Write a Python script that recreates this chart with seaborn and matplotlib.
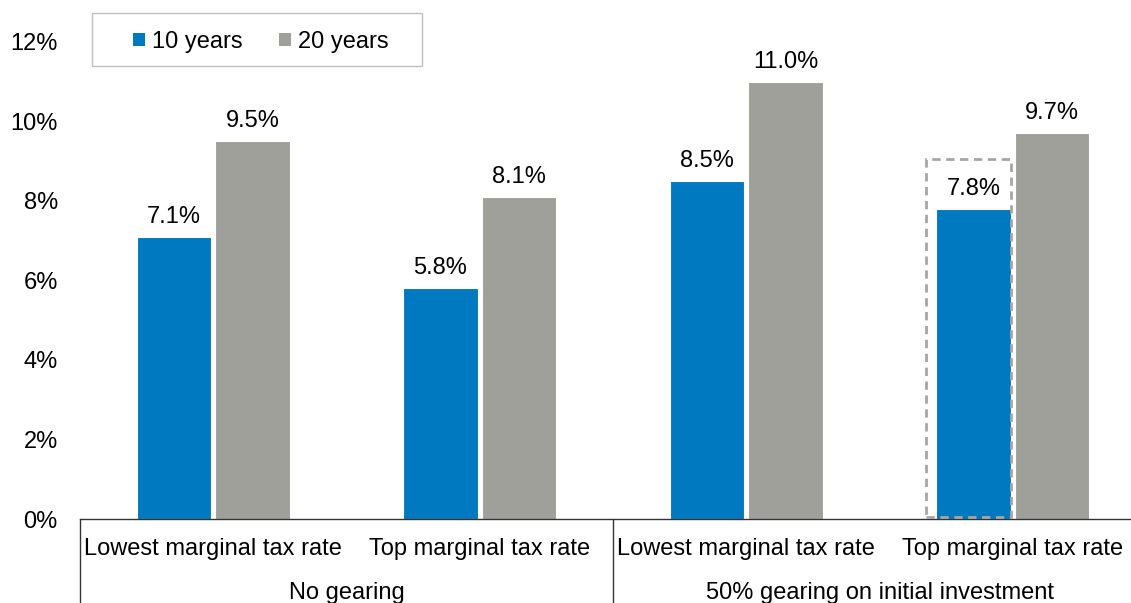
import numpy as np
import pandas as pd
import matplotlib
matplotlib.use("Agg")
import matplotlib.pyplot as plt
import matplotlib.transforms as mtransforms
from matplotlib.patches import Rectangle
import seaborn as sns

categories = ["Lowest marginal tax rate", "Top marginal tax rate",
              "Lowest marginal tax rate ", "Top marginal tax rate "]
groups = ["No gearing", "50% gearing on initial investment"]
ten_years = [7.1, 5.8, 8.5, 7.8]
twenty_years = [9.5, 8.1, 11.0, 9.7]
series = ["10 years", "20 years"]
colors = ["#0079C1", "#A0A09B"]

data = pd.DataFrame({
    "category": categories * 2,
    "series": [series[0]] * 4 + [series[1]] * 4,
    "value": ten_years + twenty_years,
})

sns.set_style("white")
plt.rcParams["font.family"] = ["Liberation Sans", "DejaVu Sans"]
plt.rcParams["text.color"] = "black"
plt.rcParams["xtick.color"] = "black"
plt.rcParams["ytick.color"] = "black"

fs = 17
W, H = 1131, 603

fig = plt.figure(figsize=(W / 100, H / 100), dpi=100)
# axes runs past the right edge like the original
ax = fig.add_axes([80 / W, (H - 519) / H, 1066 / W, (519 - 2) / H])

sns.barplot(data=data, x="category", y="value", hue="series", palette=colors,
            width=0.59, gap=0.05, ax=ax, edgecolor="white", linewidth=0.8,
            saturation=1)

ax.set_xlim(-0.5, 3.5)
ax.set_ylim(0, 13.0)
ax.set_yticks([0, 2, 4, 6, 8, 10, 12])
ax.set_yticklabels([f"{t}%" for t in [0, 2, 4, 6, 8, 10, 12]], fontsize=fs)
ax.tick_params(axis="y", length=0, pad=16)
ax.tick_params(axis="x", length=0, pad=14, labelsize=fs)
ax.set_xticklabels([c.strip() for c in categories])
ax.set_xlabel("")
ax.set_ylabel("")
for s in ["top", "right", "left"]:
    ax.spines[s].set_visible(False)
ax.spines["bottom"].set_color("#333333")
ax.spines["bottom"].set_linewidth(1)

for cont in ax.containers:
    ax.bar_label(cont, labels=[f"{v:.1f}%" for v in cont.datavalues],
                 padding=6.5, fontsize=fs, color="black")

# group separators and group labels
trans = mtransforms.blended_transform_factory(ax.transData, ax.transAxes)
for xs in [-0.5, 1.5, 3.5]:
    ax.plot([xs, xs], [0, -0.2], transform=trans, color="#333333", lw=1,
            clip_on=False)
for i, g in enumerate(groups):
    ax.text(0.5 + 2 * i, -0.143, g, transform=trans, ha="center", va="center",
            fontsize=fs)

# dashed highlight box around the last blue bar
ax.add_patch(Rectangle((3 - 0.325, 0.05), 0.32, 9.0, fill=False,
                       edgecolor="#A6A6A6", linestyle=(0, (3, 2)), lw=2,
                       zorder=5))

# legend without its own frame, frame drawn separately (wider side padding)
leg = ax.legend(loc="center left", bbox_to_anchor=(121 / W, (H - 42) / H),
                bbox_transform=fig.transFigure,
                ncol=2, fontsize=fs, frameon=False,
                handlelength=0.5, handleheight=0.5,
                handletextpad=0.3, columnspacing=1.55, borderpad=0.0)
for h in leg.legend_handles:
    h.set_edgecolor("none")
fig.patches.append(Rectangle((92 / W, (H - 66) / H), 330 / W, 53 / H,
                             transform=fig.transFigure, fill=False,
                             edgecolor="#BFBFBF", lw=1, zorder=10))

fig.savefig("out.png", dpi=100)
